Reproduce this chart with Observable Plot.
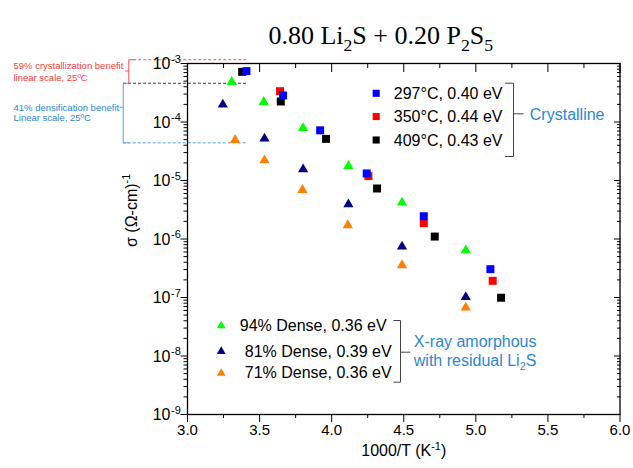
<!DOCTYPE html>
<html><head><meta charset="utf-8">
<script src="https://cdn.jsdelivr.net/npm/d3@7"></script>
<script src="https://cdn.jsdelivr.net/npm/@observablehq/plot@0.6"></script>
<style>html,body{margin:0;padding:0;background:#fff}</style>
</head><body><div id="chart"></div>
<script>
// ---------------- data ----------------
const x297 = [3.409, 3.663, 3.920, 4.243, 4.639, 5.101];
const y297 = [7.4e-4, 2.84e-4, 7.2e-5, 1.32e-5, 2.45e-6, 3.05e-7];
const x350 = [3.642, 4.255, 4.639, 5.117];
const y350 = [3.36e-4, 1.19e-5, 1.86e-6, 1.93e-7];
const x409 = [3.379, 3.647, 3.961, 4.315, 4.715, 5.175];
const y409 = [7.2e-4, 2.24e-4, 5.15e-5, 7.3e-6, 1.1e-6, 9.9e-8];
const x94 = [3.307, 3.529, 3.802, 4.116, 4.488, 4.930];
const y94 = [4.6e-4, 2.1e-4, 7.5e-5, 1.69e-5, 4.0e-6, 6.1e-7];
const x81 = [3.245, 3.534, 3.802, 4.116, 4.488, 4.930];
const y81 = [1.89e-4, 4.95e-5, 1.48e-5, 3.74e-6, 7.06e-7, 9.7e-8];
const x71 = [3.330, 3.534, 3.797, 4.112, 4.488, 4.930];
const y71 = [4.7e-5, 2.11e-5, 6.56e-6, 1.64e-6, 3.39e-7, 6.4e-8];

const crystLabels = ["297°C, 0.40 eV", "350°C, 0.44 eV", "409°C, 0.43 eV"];
const denseLabels = ["94% Dense, 0.36 eV", "81% Dense, 0.39 eV", "71% Dense, 0.36 eV"];
const crystGroup = ["Crystalline"];
const denseGroup = ["X-ray amorphous", "with residual Li_{2}S"];
const redNote = ["59% crystallization benefit", "linear scale, 25ºC"];
const blueNote = ["41% densification benefit", "Linear scale, 25ºC"];
const benefitLevels = [1.16e-3, 4.6e-4, 4.4e-5]; // red, black, blue dashed levels
const titleText = "0.80 Li_{2}S + 0.20 P_{2}S_{5}";
const xLabel = "1000/T (K^{-1})";
const yLabel = "σ (Ω-cm)^{-1}";
const xTicks = [3.0, 3.5, 4.0, 4.5, 5.0, 5.5, 6.0];
const xMinor = [3.25, 3.75, 4.25, 4.75, 5.25, 5.75];
const yTicks = [1e-9, 1e-8, 1e-7, 1e-6, 1e-5, 1e-4, 1e-3];
const yTickExp = ["-9", "-8", "-7", "-6", "-5", "-4", "-3"];

// ---------------- layout ----------------
const W = 633, H = 468, mL = 187, mR = 13.5, mT = 63, mB = 54;
const xs = d3.scaleLinear([3, 6], [mL, W - mR]);
const ys = d3.scaleLog([1e-9, 1e-3], [H - mB, mT]);
const px = v => xs.invert(v), py = v => ys.invert(v);
const yMinor = [];
for (let k = -9; k < -3; k++) for (let m = 2; m <= 9; m++) yMinor.push(m * Math.pow(10, k));

const pts = (xa, ya) => xa.map((x, i) => ({x, y: ya[i]}));
const FONT = "'Liberation Sans', Arial, sans-serif";
const BLUE_TXT = "#2d86d2";

const series = [
  {d: pts(x71, y71), fill: "#ff8000", symbol: "triangle", r: 3.8},
  {d: pts(x81, y81), fill: "#000080", symbol: "triangle", r: 3.8},
  {d: pts(x94, y94), fill: "#00ff00", symbol: "triangle", r: 3.8},
  {d: pts(x409, y409), fill: "#000000", symbol: "square", r: 4.5},
  {d: pts(x350, y350), fill: "#ff0000", symbol: "square", r: 4.5},
  {d: pts(x297, y297), fill: "#0000ff", symbol: "square", r: 4.5}
];

const polyline = (arr, stroke, extra = {}) =>
  Plot.line(arr.map(([a, b]) => ({x: px(a), y: py(b)})), {x: "x", y: "y", stroke, strokeWidth: 1, ...extra});

const crystRows = [92.8, 116, 139.5];
const crystColors = ["#0000ff", "#ff0000", "#000000"];
const denseRows = [325.3, 351, 372.8];
const denseColors = ["#00ff00", "#000080", "#ff8000"];
const denseTextX = [239.3, 244.3, 244.3];

const marks = [
  // dashed benefit lines
  Plot.ruleY([
    {v: benefitLevels[0], x1: px(133.3), x2: px(246.7), c: "#ff4d4d"},
    {v: benefitLevels[1], x1: px(123), x2: px(246.7), c: "#3a3a3a"},
    {v: benefitLevels[2], x1: px(122.7), x2: px(246.7), c: "#5a9fe0"}
  ], {y: "v", x1: "x1", x2: "x2", stroke: "c", strokeWidth: 1, strokeDasharray: "3,2"}),
  // brackets for notes
  polyline([[133.3, ys(benefitLevels[0])], [128.3, ys(benefitLevels[0])], [128.3, ys(benefitLevels[1])]], "#ff4d4d"),
  polyline([[128.3, 70.5], [124.8, 70.5]], "#ff4d4d"),
  polyline([[128.3, ys(benefitLevels[1])], [122.7, ys(benefitLevels[1])], [122.7, ys(benefitLevels[2])], [128.3, ys(benefitLevels[2])]], "#5a9fe0"),
  polyline([[122.7, 106.7], [119.3, 106.7]], "#5a9fe0"),
  // note text (two lines each)
  Plot.text([redNote.join("\n")], {frameAnchor: "top-left", dx: 13 - mL, dy: 60.6 - mT, text: d => d, textAnchor: "start", lineAnchor: "top", fontSize: 9.5, fill: "#ff3b3b", lineHeight: 1.2}),
  Plot.text([blueNote.join("\n")], {frameAnchor: "top-left", dx: 13 - mL, dy: 103.4 - mT, text: d => d, textAnchor: "start", lineAnchor: "top", fontSize: 9.5, fill: BLUE_TXT, lineHeight: 1.08}),

  // frame and axes
  Plot.frame({stroke: "black", strokeWidth: 1.3}),
  Plot.axisY({anchor: "left", ticks: yMinor, tickSize: 3.5, tickFormat: () => "", label: null}),
  Plot.axisY({anchor: "left", ticks: yTicks, tickSize: 6.5, tickFormat: () => "", label: null}),
  Plot.axisY({anchor: "right", ticks: yMinor, tickSize: -3.5, tickFormat: () => "", label: null}),
  Plot.axisY({anchor: "right", ticks: yTicks, tickSize: -6.5, tickFormat: () => "", label: null}),
  Plot.axisX({anchor: "bottom", ticks: xMinor, tickSize: 4, tickFormat: () => "", label: null}),
  Plot.axisX({anchor: "bottom", ticks: xTicks, tickSize: 8, tickPadding: 2, tickFormat: d3.format(".1f"), fontSize: 15, label: null}),
  Plot.axisX({anchor: "top", ticks: xMinor, tickSize: -4, tickFormat: () => "", label: null}),
  Plot.axisX({anchor: "top", ticks: xTicks, tickSize: -8, tickFormat: () => "", label: null}),
  // y tick labels 10^k
  Plot.text(yTicks, {y: d => d, frameAnchor: "left", text: () => "10", textAnchor: "end", dx: -17, dy: 0.5, fontSize: 16}),
  Plot.text(yTicks.map((v, i) => ({v, e: yTickExp[i]})), {y: "v", frameAnchor: "left", text: "e", textAnchor: "start", dx: -16.5, dy: -4.5, fontSize: 11}),
  // axis titles
  Plot.text([xLabel], {frameAnchor: "bottom", text: d => d, dy: 41.9, fontSize: 16}),
  Plot.text([yLabel], {frameAnchor: "left", text: d => d, dx: -56, dy: 8, rotate: -90, fontSize: 16}),
  Plot.text([titleText], {frameAnchor: "top", text: d => d, dx: -23, dy: -38, fontSize: 26, fontFamily: "'Liberation Serif', 'Times New Roman', serif"}),

  // data points
  ...series.map(s => Plot.dot(s.d, {x: "x", y: "y", symbol: s.symbol, r: s.r, fill: s.fill, stroke: "none", dy: s.symbol === "triangle" ? -1.2 : 0})),

  // crystalline legend
  Plot.dot(crystRows.map((r, i) => ({x: px(375.7), y: py(r), c: crystColors[i]})), {x: "x", y: "y", symbol: "square", r: 4, fill: "c"}),
  Plot.text(crystRows.map((r, i) => ({x: px(393.3), y: py(r + 0.5), t: crystLabels[i]})), {x: "x", y: "y", text: "t", textAnchor: "start", fontSize: 16}),
  polyline([[505, 82.7], [513, 82.7], [513, 156], [505, 156]], "#444"),
  polyline([[513, 113.3], [522.7, 113.3]], "#444"),
  Plot.text(crystGroup, {x: () => px(529.3), y: () => py(113.9), text: d => d, textAnchor: "start", fontSize: 16, fill: BLUE_TXT}),

  // dense legend
  Plot.dot(denseRows.map((r, i) => ({x: px(220.7), y: py(r), c: denseColors[i]})), {x: "x", y: "y", symbol: "triangle", r: 3.3, fill: "c"}),
  Plot.text(denseRows.map((r, i) => ({x: px(denseTextX[i]), y: py(r), t: denseLabels[i]})), {x: "x", y: "y", text: "t", textAnchor: "start", fontSize: 16}),
  polyline([[393.3, 320], [400, 320], [400, 381.7], [393.3, 381.7]], "#444"),
  polyline([[400, 351.7], [409.3, 351.7]], "#444"),
  Plot.text(denseGroup.map((t, i) => ({t, y: py([340.9, 359.9][i])})), {x: () => px(413.3), y: "y", text: "t", textAnchor: "start", fontSize: 16, fill: BLUE_TXT})
];

const chart = Plot.plot({
  width: W, height: H,
  marginLeft: mL, marginRight: mR, marginTop: mT, marginBottom: mB,
  x: {domain: [3, 6]},
  y: {type: "log", domain: [1e-9, 1e-3]},
  color: {type: "identity"},
  style: {fontFamily: FONT, background: "white", color: "black", overflow: "visible"},
  marks
});
document.getElementById("chart").appendChild(chart);

// rich text: _{sub} and ^{sup}
function richify(svg) {
  svg.querySelectorAll("text").forEach(t => {
    if (t.querySelector("tspan")) return;
    const s = t.textContent;
    if (!/[_^]\{/.test(s)) return;
    const fs = parseFloat(getComputedStyle(t).fontSize) || 16;
    const parts = s.split(/(_\{[^}]*\}|\^\{[^}]*\})/).filter(p => p !== "");
    t.textContent = "";
    let shift = 0;
    for (const p of parts) {
      const ts = document.createElementNS("http://www.w3.org/2000/svg", "tspan");
      let target = 0, str = p, size = null;
      if (p.startsWith("_{")) { target = 0.28 * fs; str = p.slice(2, -1); size = 0.68 * fs; }
      else if (p.startsWith("^{")) { target = -0.42 * fs; str = p.slice(2, -1); size = 0.68 * fs; }
      const d = target - shift;
      if (d !== 0) ts.setAttribute("dy", d.toFixed(2));
      if (size) ts.setAttribute("font-size", size.toFixed(2));
      ts.textContent = str;
      shift = target;
      t.appendChild(ts);
    }
  });
}
richify(chart);
</script>
</body></html>
